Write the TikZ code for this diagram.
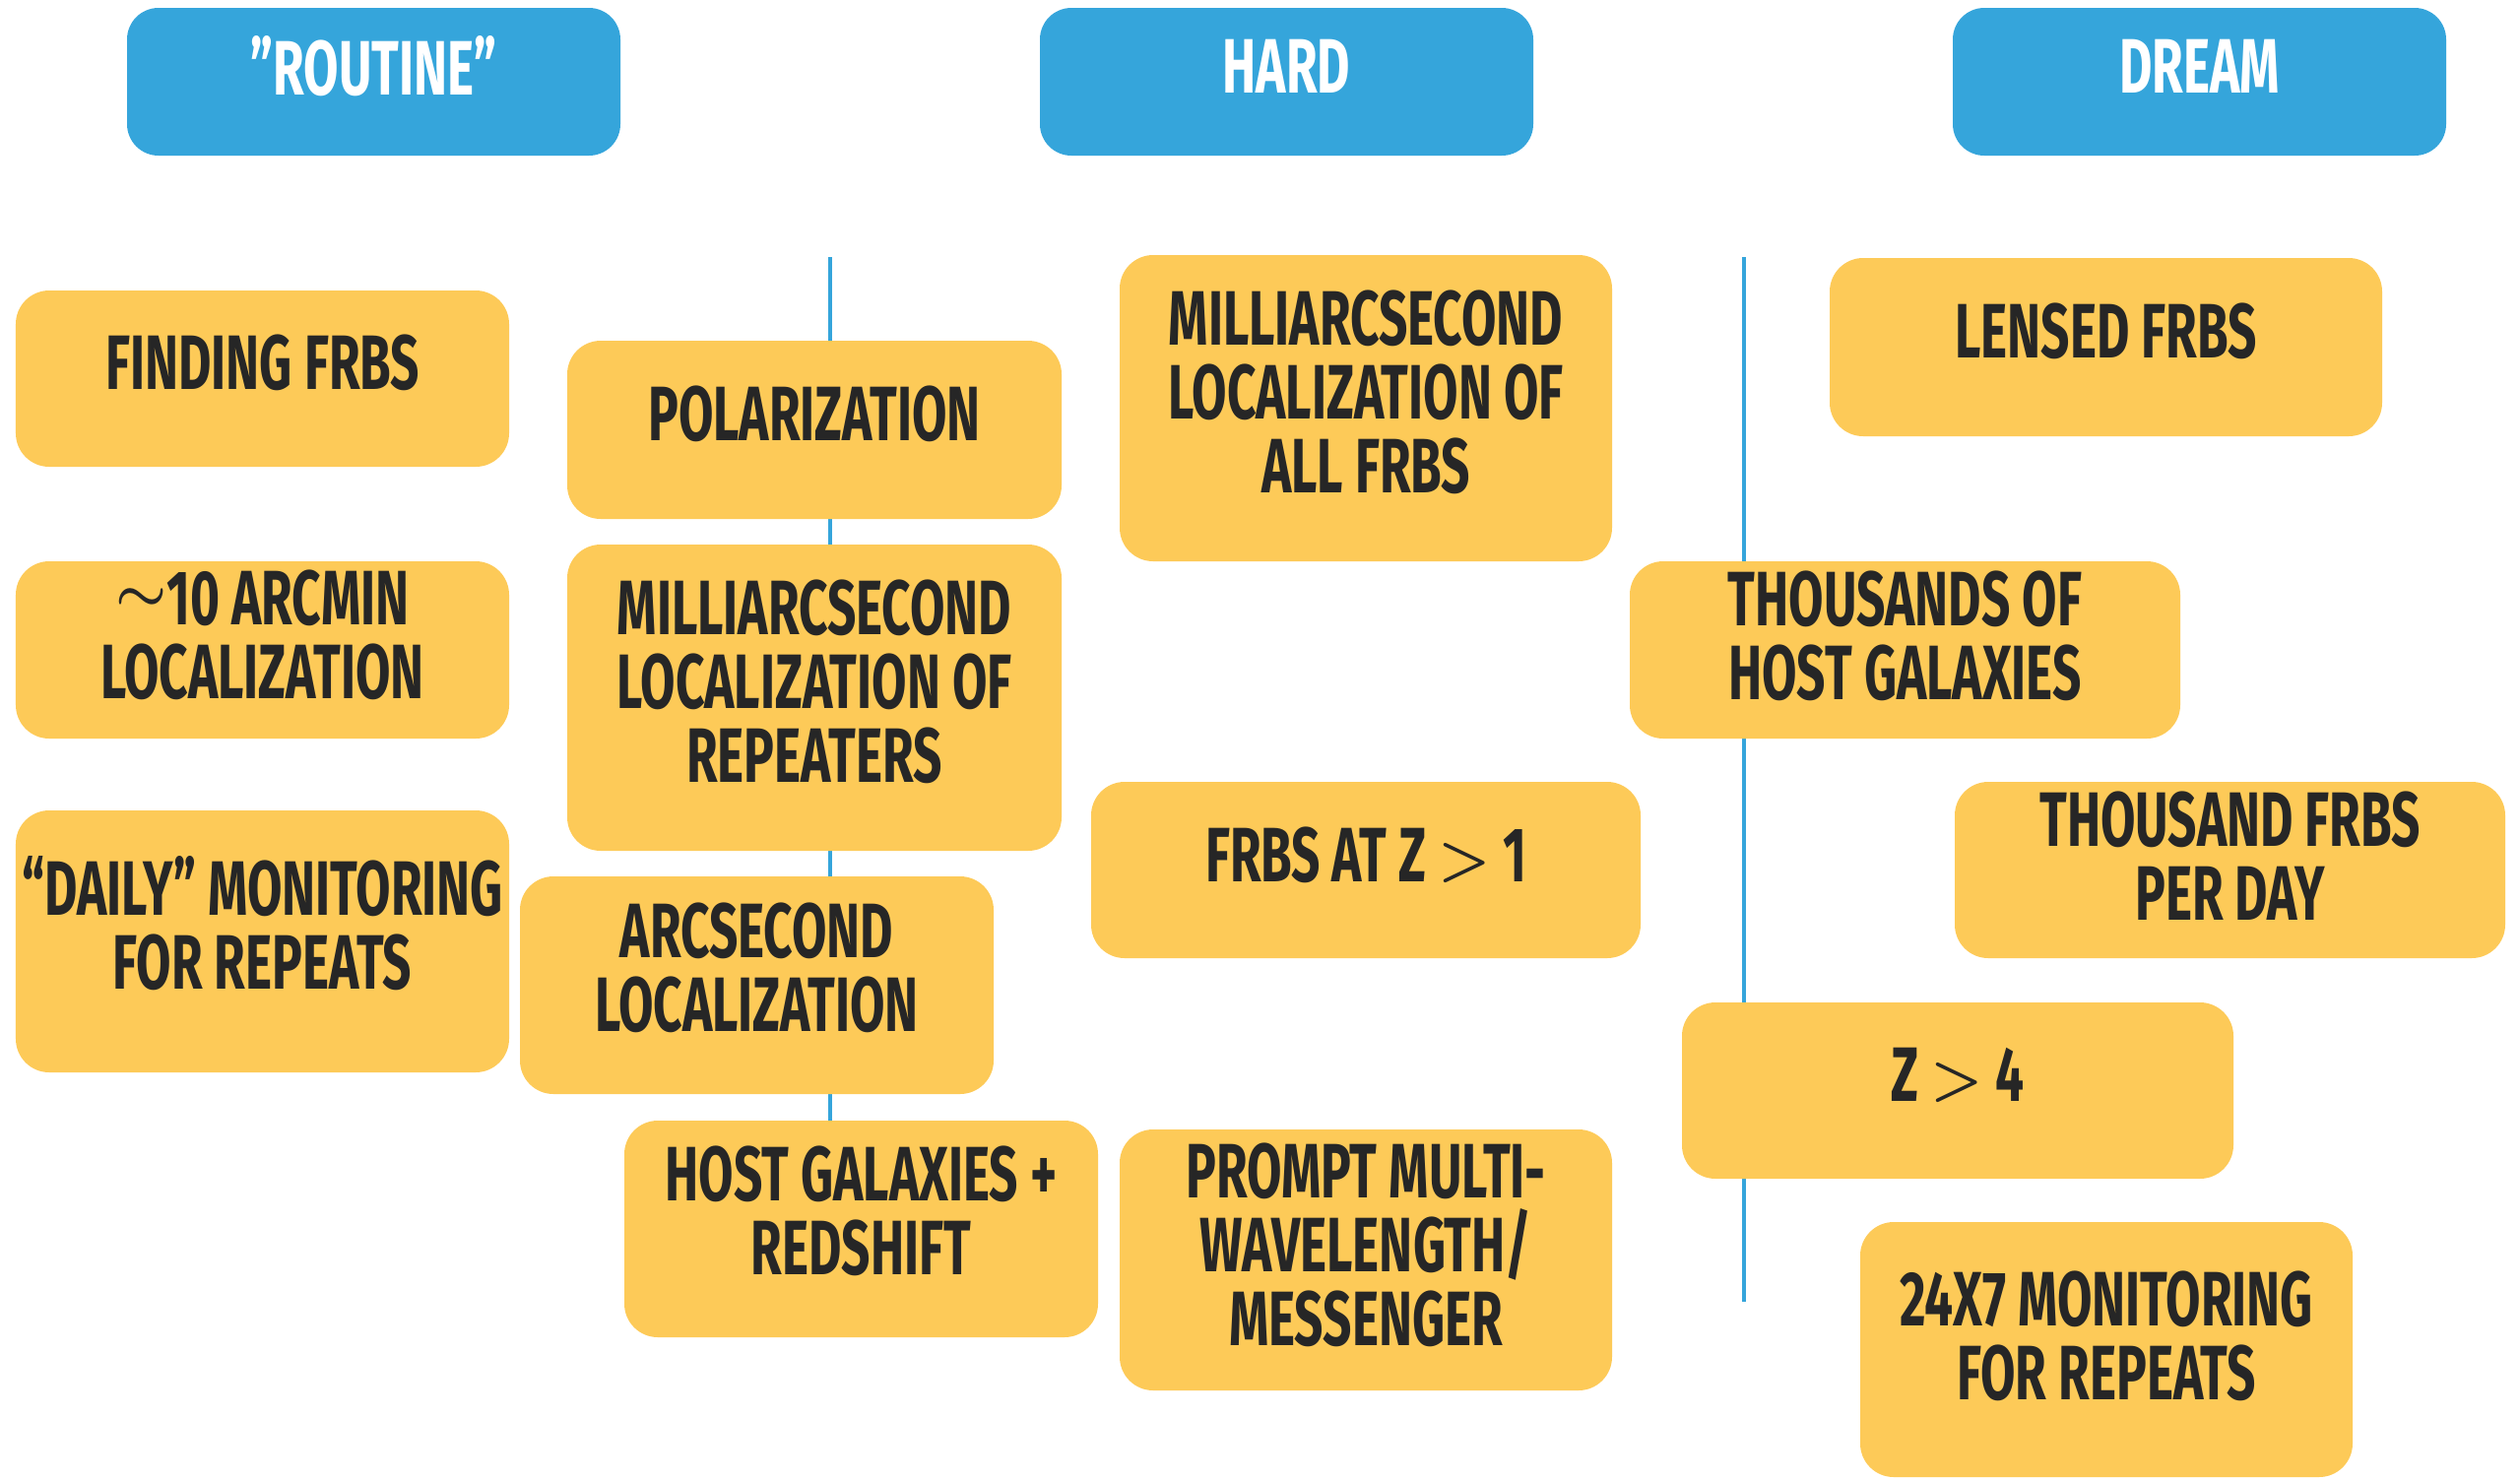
\documentclass[tikz,border=0pt]{standalone}
\usepackage{fontspec}
\usepackage{graphicx}
\setmainfont{Fira Sans}[FakeStretch=0.655]
\definecolor{hdrblue}{HTML}{35A5DB}
\definecolor{boxyel}{HTML}{FDCA58}
\definecolor{txtdark}{HTML}{262626}
\tikzset{
  hdrbox/.style={fill=hdrblue, draw=none, rounded corners=0.32cm, inner sep=0pt, outer sep=0pt},
  ybox/.style={fill=boxyel, draw=none, rounded corners=0.34cm, inner sep=0pt, outer sep=0pt},
  hdrtxt/.style={text=white, align=center, inner sep=0pt, font=\bfseries\fontsize{22.3}{21.3}\selectfont},
  ytxt/.style={text=txtdark, align=center, inner sep=0pt, font=\bfseries\fontsize{22.3}{21.3}\selectfont},
  divider/.style={draw=hdrblue, line width=1.4pt}
}
\newcommand{\mysim}{\raisebox{0.35ex}{\scalebox{0.8}{\boldmath$\sim$}}}
\newcommand{\mygt}{\raisebox{0.1ex}{\scalebox{0.82}{\boldmath$>$}}}
\begin{document}
\begin{tikzpicture}
\useasboundingbox (0,0) rectangle (25.59,-15.03);
% dividers
\coordinate (l1top) at (8.43,-2.61);
\coordinate (l1bot) at (8.43,-11.38);
\coordinate (l2top) at (17.71,-2.61);
\coordinate (l2bot) at (17.71,-13.22);
\draw[divider] (l1top) -- (l1bot);
\draw[divider] (l2top) -- (l2bot);
% headers
\node[hdrbox, minimum width=5.01cm, minimum height=1.50cm] (routine) at (3.795,-0.83) {};
\node[hdrtxt] (routine-t) at ([yshift=1.6mm]routine.center) {"ROUTINE”};
\node[hdrbox, minimum width=5.01cm, minimum height=1.50cm] (hard) at (13.065,-0.83) {};
\node[hdrtxt] (hard-t) at ([yshift=1.6mm]hard.center) {HARD};
\node[hdrbox, minimum width=5.01cm, minimum height=1.50cm] (dream) at (22.335,-0.83) {};
\node[hdrtxt] (dream-t) at ([yshift=1.6mm]dream.center) {DREAM};
% routine column
\node[ybox, minimum width=5.01cm, minimum height=1.79cm] (finding) at (2.665,-3.845) {};
\node[ytxt] (finding-t) at ([yshift=1.6mm]finding.center) {FINDING FRBS};
\node[ybox, minimum width=5.01cm, minimum height=1.80cm] (arcmin) at (2.665,-6.60) {};
\node[ytxt] (arcmin-t) at ([yshift=1.5mm]arcmin.center) {\mysim10 ARCMIN\\LOCALIZATION};
\node[ybox, minimum width=5.01cm, minimum height=2.66cm] (daily) at (2.665,-9.56) {};
\node[ytxt] (daily-t) at ([yshift=1.8mm]daily.center) {“DAILY” MONITORING\\FOR REPEATS};
% second column
\node[ybox, minimum width=5.02cm, minimum height=1.81cm] (polar) at (8.27,-4.365) {};
\node[ytxt] (polar-t) at ([yshift=1.6mm]polar.center) {POLARIZATION};
\node[ybox, minimum width=5.02cm, minimum height=3.11cm] (masrep) at (8.27,-7.085) {};
\node[ytxt] (masrep-t) at ([yshift=1.6mm]masrep.center) {MILLIARCSECOND\\LOCALIZATION OF\\REPEATERS};
\node[ybox, minimum width=4.81cm, minimum height=2.21cm] (arcsec) at (7.685,-10.005) {};
\node[ytxt] (arcsec-t) at ([yshift=1.8mm]arcsec.center) {ARCSECOND\\LOCALIZATION};
\node[ybox, minimum width=4.81cm, minimum height=2.20cm] (host) at (8.745,-12.48) {};
\node[ytxt] (host-t) at ([yshift=1.8mm]host.center) {HOST GALAXIES +\\REDSHIFT};
% hard column
\node[ybox, minimum width=5.00cm, minimum height=3.11cm] (masall) at (13.87,-4.145) {};
\node[ytxt] (masall-t) at ([yshift=1.6mm]masall.center) {MILLIARCSECOND\\LOCALIZATION OF\\ALL FRBS};
\node[ybox, minimum width=5.58cm, minimum height=1.79cm] (zone) at (13.87,-8.835) {};
\node[ytxt] (zone-t) at ([yshift=1.5mm]zone.center) {FRBS AT Z \mygt{} 1};
\node[ybox, minimum width=5.00cm, minimum height=2.65cm] (prompt) at (13.87,-12.795) {};
\node[ytxt] (prompt-t) at ([yshift=1.5mm]prompt.center) {PROMPT MULTI-\\WAVELENGTH/\\MESSENGER};
% dream column
\node[ybox, minimum width=5.61cm, minimum height=1.81cm] (lensed) at (21.385,-3.525) {};
\node[ytxt] (lensed-t) at ([yshift=1.6mm]lensed.center) {LENSED FRBS};
\node[ybox, minimum width=5.59cm, minimum height=1.80cm] (thousands) at (19.345,-6.60) {};
\node[ytxt] (thousands-t) at ([yshift=1.4mm]thousands.center) {THOUSANDS OF\\HOST GALAXIES};
\node[ybox, minimum width=5.59cm, minimum height=1.79cm] (perday) at (22.645,-8.835) {};
\node[ytxt] (perday-t) at ([yshift=1.4mm]perday.center) {THOUSAND FRBS\\PER DAY};
\node[ybox, minimum width=5.60cm, minimum height=1.79cm] (zfour) at (19.88,-11.075) {};
\node[ytxt] (zfour-t) at ([yshift=1.6mm]zfour.center) {Z \mygt{} 4};
\node[ybox, minimum width=5.00cm, minimum height=2.59cm] (monitor) at (21.39,-13.705) {};
\node[ytxt] (monitor-t) at ([yshift=1.4mm]monitor.center) {24X7 MONITORING\\FOR REPEATS};
\end{tikzpicture}
\end{document}
